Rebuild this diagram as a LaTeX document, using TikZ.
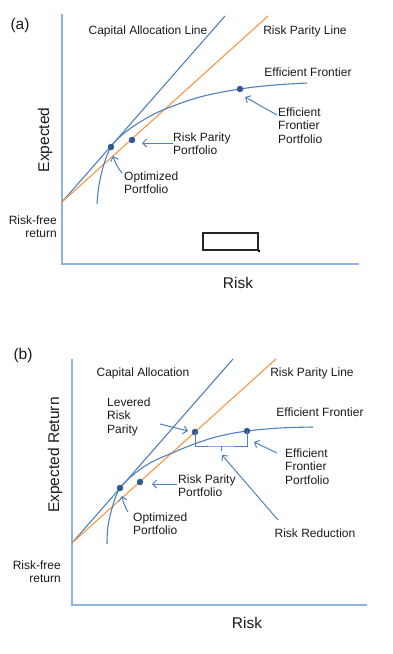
\documentclass[tikz,border=0pt]{standalone}
\usepackage{fontspec}
\setmainfont{Liberation Sans}
\usetikzlibrary{arrows.meta}
\definecolor{axisblue}{HTML}{8EB4E3}
\definecolor{lineblue}{HTML}{4F81BD}
\definecolor{rporange}{HTML}{F79646}
\definecolor{dotblue}{HTML}{2F5A8F}
\definecolor{txt}{HTML}{1A1A1A}
\begin{document}
\begin{tikzpicture}[x=1pt,y=-1pt,
  axis/.style={draw=axisblue, line width=1.6pt},
  cal/.style={draw=lineblue, line width=1.1pt},
  rpl/.style={draw=rporange, line width=1.1pt},
  front/.style={draw=lineblue, line width=1.1pt},
  pdot/.style={circle, fill=dotblue, inner sep=0pt, minimum size=6.5pt},
  lbl/.style={font=\fontsize{12}{13.5}\selectfont, text=txt, align=left, inner sep=0pt},
  big/.style={font=\fontsize{15.5}{17}\selectfont, text=txt, inner sep=0pt},
  parr/.style={draw=lineblue, line width=1pt, -{Straight Barb[length=4pt,width=8pt]}},
]
\useasboundingbox (0,0) rectangle (392,654);
% ================= panel (a) =================
\node[big] (ta) at (20,25) {(a)};
\coordinate (ay0) at (62,14);
\coordinate (ao) at (62,264);
\coordinate (ax1) at (359,264);
\draw[axis] (ay0) -- (ao) -- (ax1);
\coordinate (arf) at (62,202);
\coordinate (acal) at (225,16);
\coordinate (arpl) at (268,16);
\draw[cal] (arf) -- (acal);
\draw[rpl] (arf) -- (arpl);
\draw[front] plot[smooth, tension=0.6] coordinates {(97,204) (99,185) (104,164) (111,147) (122,135) (140,122) (163,110) (200,97) (240,89) (275,85) (307,83)};
\node[pdot] (aop) at (111,147) {};
\node[pdot] (arp) at (132,140) {};
\node[pdot] (aef) at (240,89) {};
\node[lbl] (lcal) at (148,31) {Capital Allocation Line};
\node[lbl] (lrpl) at (305,31) {Risk Parity Line};
\node[lbl] (lef) at (308,72) {Efficient Frontier};
\node[lbl, anchor=north west] (lefp) at (278,107.5) {Efficient\\Frontier\\Portfolio};
\node[lbl, anchor=north west] (lrpp) at (173,132.5) {Risk Parity\\Portfolio};
\node[lbl, anchor=north west] (lop) at (124,171.5) {Optimized\\Portfolio};
\node[lbl, align=right, anchor=north east] (lrf) at (57,215.5) {Risk-free\\return};
\node[big, rotate=90] (lexp) at (45,140) {Expected};
\node[big] (lrisk) at (238,283) {Risk};
\coordinate (a1s) at (173,143);
\coordinate (a1e) at (142,143);
\draw[parr] (a1s) -- (a1e);
\coordinate (a2s) at (122,173);
\coordinate (a2e) at (113,156);
\draw[parr] (a2s) to[bend left=10] (a2e);
\coordinate (a3s) at (277,115);
\coordinate (a3e) at (245,97);
\draw[parr] (a3s) -- (a3e);
\node[draw=black!85, line width=1.6pt, minimum width=55pt, minimum height=17pt, inner sep=0pt, anchor=north west] (box) at (202,232) {};
\node[fill=black, inner sep=0pt, minimum size=2.2pt] (boxh) at (box.south east) {};
% ================= panel (b) =================
\node[big] (tb) at (23,355) {(b)};
\coordinate (by0) at (72,359);
\coordinate (bo) at (72,605);
\coordinate (bx1) at (367,605);
\draw[axis] (by0) -- (bo) -- (bx1);
\coordinate (brf) at (72,543);
\coordinate (bcal) at (233,359);
\coordinate (brpl) at (276,359);
\draw[cal] (brf) -- (bcal);
\draw[rpl] (brf) -- (brpl);
\draw[front] plot[smooth, tension=0.6] coordinates {(107,544) (108,526) (113,505) (120,488) (133,475) (150,463) (172,453) (197,443) (220,436) (247,431) (280,428) (313,427)};
\node[pdot] (bop) at (120,488) {};
\node[pdot] (brp) at (140,482) {};
\node[pdot] (blv) at (195,432) {};
\node[pdot] (bef) at (247,431) {};
\draw[front, line width=1pt] (blv.center) |- (221,446) -| (bef.center);
\coordinate (bmid) at (221,446);
\coordinate (bmid2) at (221,451);
\draw[front, line width=1pt] (bmid) -- (bmid2);
\node[lbl] (mcal) at (143,373) {Capital Allocation};
\node[lbl] (mrpl) at (312,373) {Risk Parity Line};
\node[lbl, anchor=north west] (mlv) at (107,397.5) {Levered\\Risk\\Parity};
\node[lbl] (mef) at (320,412) {Efficient Frontier};
\node[lbl, anchor=north west] (mefp) at (285,448.5) {Efficient\\Frontier\\Portfolio};
\node[lbl, anchor=north west] (mrpp) at (178,474.5) {Risk Parity\\Portfolio};
\node[lbl, anchor=north west] (mop) at (133,512.5) {Optimized\\Portfolio};
\node[lbl] (mrr) at (315,533) {Risk Reduction};
\node[big, rotate=90] (mexp) at (55,455) {Expected Return};
\node[lbl, align=right, anchor=north east] (mrf) at (61,560.5) {Risk-free\\return};
\node[big] (mrisk) at (247,623) {Risk};
\coordinate (b1s) at (160,424);
\coordinate (b1e) at (188,431);
\draw[parr] (b1s) -- (b1e);
\coordinate (b2s) at (177,484);
\coordinate (b2e) at (152,484);
\draw[parr] (b2s) -- (b2e);
\coordinate (b3s) at (128,512);
\coordinate (b3e) at (122,496);
\draw[parr] (b3s) to[bend left=10] (b3e);
\coordinate (b4s) at (277,453);
\coordinate (b4e) at (254,442);
\draw[parr] (b4s) -- (b4e);
\coordinate (b5s) at (278,520);
\coordinate (b5e) at (222,455);
\draw[parr] (b5s) -- (b5e);
\end{tikzpicture}
\end{document}
